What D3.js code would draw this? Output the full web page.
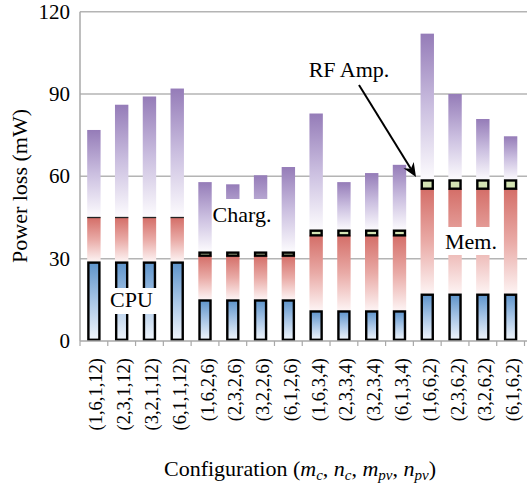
<!DOCTYPE html>
<html>
<head>
<meta charset="utf-8">
<script src="https://cdn.jsdelivr.net/npm/d3@7"></script>
</head>
<body style="margin:0;background:#fff">
<svg id="chart" width="527" height="490" font-family="Liberation Serif, Tinos, serif" style="display:block"></svg>
<script>
// ---- data ----
const categories = ["(1,6,1,12)", "(2,3,1,12)", "(3,2,1,12)", "(6,1,1,12)",
                    "(1,6,2,6)", "(2,3,2,6)", "(3,2,2,6)", "(6,1,2,6)",
                    "(1,6,3,4)", "(2,3,3,4)", "(3,2,3,4)", "(6,1,3,4)",
                    "(1,6,6,2)", "(2,3,6,2)", "(3,2,6,2)", "(6,1,6,2)"];
const cpu   = [29, 29, 29, 29, 15.2, 15.2, 15.2, 15.2, 11.2, 11.2, 11.2, 11.2, 17.3, 17.3, 17.3, 17.3];
const mem   = [16, 16, 16, 16, 15.9, 15.9, 15.9, 15.9, 27.3, 27.3, 27.3, 27.3, 38.2, 38.2, 38.2, 38.2];
const rfAmp = [0, 0, 0, 0, 1.1, 1.1, 1.1, 1.1, 1.7, 1.7, 1.7, 1.7, 3.0, 3.0, 3.0, 3.0];
const charg = [31.9, 41.1, 44.1, 47.0, 25.7, 24.9, 28.2, 31.2, 42.7, 17.7, 21.0, 24.0, 53.5, 31.5, 22.4, 16.1];
const yTicks = [0, 30, 60, 90, 120];
const seriesNames = ["CPU", "Mem.", "RF Amp.", "Charg."];

// ---- setup ----
const FONT = "Liberation Serif";
const svg = d3.select("#chart");
const W = 527, H = 490;
const mLeft = 80, mRight = 524.5, mTop = 11.7, mBottom = 341;

function serif(sel, size) {
  return sel.attr("font-family", FONT).attr("font-size", size);
}

const x = d3.scaleBand().domain(categories).range([mLeft, mRight]).paddingInner(0).paddingOuter(0);
const y = d3.scaleLinear().domain([0, 120]).range([mBottom, mTop]);

const defs = svg.append("defs");
function grad(id, stops) {
  const g = defs.append("linearGradient").attr("id", id)
    .attr("x1", 0).attr("y1", 0).attr("x2", 0).attr("y2", 1);
  stops.forEach(s => g.append("stop").attr("offset", s[0]).attr("stop-color", s[1]));
}
grad("gBlue",   [[0, "#5e94cb"], [0.5, "#a9c6e6"], [1, "#f0f5fb"]]);
grad("gRed",    [[0, "#d46e68"], [0.5, "#e9aaa6"], [1, "#fdf3f3"]]);
grad("gPurple", [[0, "#957cb8"], [0.5, "#cbbfe0"], [1, "#fdfcfe"]]);

// gridlines
svg.append("g").selectAll("line").data(yTicks.filter(v => v > 0)).join("line")
  .attr("x1", mLeft).attr("x2", W)
  .attr("y1", d => y(d)).attr("y2", d => y(d))
  .attr("stroke", "#b4b4b4").attr("stroke-width", 1.5);

// y axis line
svg.append("line").attr("x1", mLeft).attr("x2", mLeft).attr("y1", mTop).attr("y2", mBottom)
  .attr("stroke", "#a8a8a8").attr("stroke-width", 1.5);

// y axis labels (positioned by the y scale)
serif(svg.append("g").selectAll("text").data(yTicks).join("text"), 21)
  .attr("x", mLeft - 10).attr("y", d => y(d)).attr("dy", "0.34em")
  .attr("text-anchor", "end").text(d => d);

// bars
const barW = 13.4;
const bw = x.bandwidth();
const sw = 2.4;
const stacks = categories.map((c, i) => {
  const b0 = 0, b1 = cpu[i], b2 = b1 + mem[i], b3 = b2 + rfAmp[i], b4 = b3 + charg[i];
  return { c, segs: [[b0, b1], [b1, b2], [b2, b3], [b3, b4]] };
});
const barsG = svg.append("g");
stacks.forEach(s => {
  const x0 = x(s.c) + (bw - barW) / 2;
  barsG.append("rect").attr("x", x0).attr("width", barW)
    .attr("y", y(s.segs[3][1])).attr("height", y(s.segs[3][0]) - y(s.segs[3][1]))
    .attr("fill", "url(#gPurple)");
  barsG.append("rect").attr("x", x0).attr("width", barW)
    .attr("y", y(s.segs[1][1])).attr("height", y(s.segs[1][0]) - y(s.segs[1][1]))
    .attr("fill", "url(#gRed)");
  barsG.append("rect").attr("x", x0 + sw / 2).attr("width", barW - sw)
    .attr("y", y(s.segs[0][1]) + sw / 2).attr("height", y(s.segs[0][0]) - y(s.segs[0][1]) - sw)
    .attr("fill", "url(#gBlue)").attr("stroke", "#000").attr("stroke-width", sw);
  const h = y(s.segs[2][0]) - y(s.segs[2][1]);
  if (h < 0.5) {
    barsG.append("line").attr("x1", x0).attr("x2", x0 + barW)
      .attr("y1", y(s.segs[2][1])).attr("y2", y(s.segs[2][1]))
      .attr("stroke", "#222").attr("stroke-width", 1.3);
  } else {
    barsG.append("rect").attr("x", x0 + sw / 2).attr("width", barW - sw)
      .attr("y", y(s.segs[2][1])).attr("height", h)
      .attr("fill", "#d4e3b3").attr("stroke", "#000").attr("stroke-width", sw);
  }
});

// x axis line and ticks at band boundaries
svg.append("line").attr("x1", mLeft).attr("x2", W).attr("y1", mBottom).attr("y2", mBottom)
  .attr("stroke", "#a8a8a8").attr("stroke-width", 1.5);
const bounds = categories.map(c => x(c)).concat([x(categories[categories.length - 1]) + bw]);
svg.append("g").selectAll("line").data(bounds).join("line")
  .attr("x1", d => d).attr("x2", d => d).attr("y1", mBottom).attr("y2", mBottom + 5)
  .attr("stroke", "#a8a8a8").attr("stroke-width", 1.2);

// x tick labels (rotated)
serif(svg.append("g").selectAll("text").data(categories).join("text"), 18.5)
  .attr("transform", d => `translate(${x(d) + bw / 2 + 2},358) rotate(-90)`)
  .attr("text-anchor", "end").attr("dy", "0.35em")
  .text(d => d);

// in-chart labels with white backgrounds
function label(txt, cx, baseline, box, size) {
  if (box) svg.append("rect").attr("x", box[0]).attr("y", box[1])
    .attr("width", box[2] - box[0]).attr("height", box[3] - box[1]).attr("fill", "#fff");
  serif(svg.append("text"), size).attr("x", cx).attr("y", baseline)
    .attr("text-anchor", "middle").text(txt);
}
label(seriesNames[0], 131.5, 307, [108, 288, 158, 314], 22);
label(seriesNames[3], 242, 222, [212, 199, 276, 251], 22);
label(seriesNames[1], 471, 249, [440, 227, 502, 255], 22);
label(seriesNames[2], 349, 77, null, 22);

// arrow from RF Amp. label to the RF segment (line + filled head)
const ax1 = 359, ay1 = 85, ax2 = 416, ay2 = 177;
const ang = Math.atan2(ay2 - ay1, ax2 - ax1);
const hl = 14, hw = 6;
const bx = ax2 - hl * Math.cos(ang), by = ay2 - hl * Math.sin(ang);
const ix = ax2 - hl * 0.7 * Math.cos(ang), iy = ay2 - hl * 0.7 * Math.sin(ang);
svg.append("line").attr("x1", ax1).attr("y1", ay1).attr("x2", ix).attr("y2", iy)
  .attr("stroke", "#000").attr("stroke-width", 2);
svg.append("path").attr("fill", "#000").attr("d",
  `M${ax2},${ay2} L${bx - hw * Math.sin(ang)},${by + hw * Math.cos(ang)} L${ix},${iy} L${bx + hw * Math.sin(ang)},${by - hw * Math.cos(ang)} Z`);

// y axis title
serif(svg.append("text"), 22).attr("transform", "translate(27,186) rotate(-90)")
  .attr("text-anchor", "middle").text("Power loss (mW)");

// x axis title
const xt = serif(svg.append("text"), 22).attr("x", 300).attr("y", 476).attr("text-anchor", "middle");
xt.append("tspan").text("Configuration (");
const parts = [["m", "c"], ["n", "c"], ["m", "pv"], ["n", "pv"]];
parts.forEach((p, i) => {
  xt.append("tspan").attr("font-style", "italic").text(p[0]);
  xt.append("tspan").attr("font-style", "italic").attr("font-size", 15).attr("dy", 4).text(p[1]);
  xt.append("tspan").attr("dy", -4).text(i < parts.length - 1 ? ", " : ")");
});
</script>
</body>
</html>
